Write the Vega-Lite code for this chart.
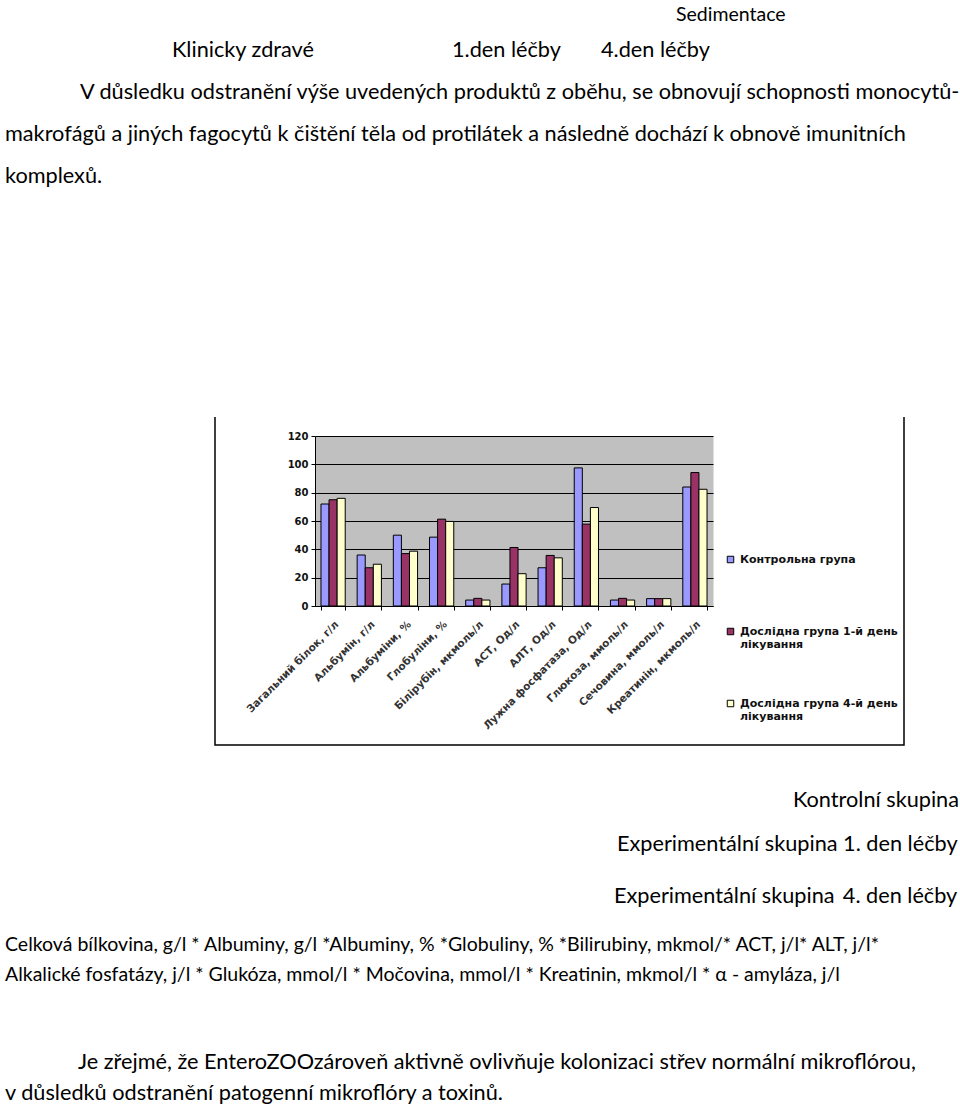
{
  "$schema": "https://vega.github.io/schema/vega-lite/v6.json",
  "width": 689,
  "height": 328,
  "padding": {"left": 215, "top": 417, "right": 56, "bottom": 365},
  "autosize": {"type": "none"},
  "background": "white",
  "config": {
    "view": {"stroke": "black", "strokeWidth": 1.5, "strokeDash": [0, 689, 1345, 0], "fill": "white"}
  },
  "datasets": {
    "bars": [
      {"category": "Загальний білок, г/л", "group": "Контрольна група", "value": 72},
      {"category": "Загальний білок, г/л", "group": "Дослідна група 1-й день лікування", "value": 75},
      {"category": "Загальний білок, г/л", "group": "Дослідна група 4-й день лікування", "value": 76},
      {"category": "Альбумін, г/л", "group": "Контрольна група", "value": 36},
      {"category": "Альбумін, г/л", "group": "Дослідна група 1-й день лікування", "value": 27},
      {"category": "Альбумін, г/л", "group": "Дослідна група 4-й день лікування", "value": 29.5},
      {"category": "Альбуміни, %", "group": "Контрольна група", "value": 50},
      {"category": "Альбуміни, %", "group": "Дослідна група 1-й день лікування", "value": 37},
      {"category": "Альбуміни, %", "group": "Дослідна група 4-й день лікування", "value": 38.7},
      {"category": "Глобуліни, %", "group": "Контрольна група", "value": 48.6},
      {"category": "Глобуліни, %", "group": "Дослідна група 1-й день лікування", "value": 61.3},
      {"category": "Глобуліни, %", "group": "Дослідна група 4-й день лікування", "value": 59.7},
      {"category": "Білірубін, мкмоль/л", "group": "Контрольна група", "value": 4.2},
      {"category": "Білірубін, мкмоль/л", "group": "Дослідна група 1-й день лікування", "value": 5.4},
      {"category": "Білірубін, мкмоль/л", "group": "Дослідна група 4-й день лікування", "value": 4.2},
      {"category": "АСТ, Од/л", "group": "Контрольна група", "value": 15.5},
      {"category": "АСТ, Од/л", "group": "Дослідна група 1-й день лікування", "value": 41.3},
      {"category": "АСТ, Од/л", "group": "Дослідна група 4-й день лікування", "value": 22.8},
      {"category": "АЛТ, Од/л", "group": "Контрольна група", "value": 27},
      {"category": "АЛТ, Од/л", "group": "Дослідна група 1-й день лікування", "value": 35.7},
      {"category": "АЛТ, Од/л", "group": "Дослідна група 4-й день лікування", "value": 34},
      {"category": "Лужна фосфатаза, Од/л", "group": "Контрольна група", "value": 97.5},
      {"category": "Лужна фосфатаза, Од/л", "group": "Дослідна група 1-й день лікування", "value": 57.8},
      {"category": "Лужна фосфатаза, Од/л", "group": "Дослідна група 4-й день лікування", "value": 69.5},
      {"category": "Глюкоза, ммоль/л", "group": "Контрольна група", "value": 4.2},
      {"category": "Глюкоза, ммоль/л", "group": "Дослідна група 1-й день лікування", "value": 5.4},
      {"category": "Глюкоза, ммоль/л", "group": "Дослідна група 4-й день лікування", "value": 4.2},
      {"category": "Сечовина, ммоль/л", "group": "Контрольна група", "value": 5.2},
      {"category": "Сечовина, ммоль/л", "group": "Дослідна група 1-й день лікування", "value": 5.2},
      {"category": "Сечовина, ммоль/л", "group": "Дослідна група 4-й день лікування", "value": 5.2},
      {"category": "Креатинін, мкмоль/л", "group": "Контрольна група", "value": 84},
      {"category": "Креатинін, мкмоль/л", "group": "Дослідна група 1-й день лікування", "value": 94.2},
      {"category": "Креатинін, мкмоль/л", "group": "Дослідна група 4-й день лікування", "value": 82.4}
    ],
    "page": [
      {"n": 1, "text": "Sedimentace"},
      {"n": 2, "text": "Klinicky zdravé"},
      {"n": 3, "text": "1.den léčby"},
      {"n": 4, "text": "4.den léčby"},
      {"n": 5, "text": "V důsledku odstranění výše uvedených produktů z oběhu, se obnovují schopnosti monocytů-"},
      {"n": 6, "text": "makrofágů a jiných fagocytů k čištění těla od protilátek a následně dochází k obnově imunitních"},
      {"n": 7, "text": "komplexů."},
      {"n": 8, "text": "Kontrolní skupina"},
      {"n": 9, "text": "Experimentální skupina 1. den léčby"},
      {"n": 10, "text": "Experimentální skupina\u2009 4. den léčby"},
      {"n": 11, "text": "Celková bílkovina, g/l * Albuminy, g/l *Albuminy, % *Globuliny, % *Bilirubiny, mkmol/* ACT, j/l* ALT, j/l*"},
      {"n": 12, "text": "Alkalické fosfatázy, j/l * Glukóza, mmol/l * Močovina, mmol/l * Kreatinin, mkmol/l * α - amyláza, j/l"},
      {"n": 13, "text": "Je zřejmé, že EnteroZOOzároveň aktivně ovlivňuje kolonizaci střev normální mikroflórou,"},
      {"n": 14, "text": "v důsledků odstranění patogenní mikroflóry a toxinů."}
    ]
  },
  "layer": [
    {
      "data": {"name": "bars"},
      "layer": [
        {
          "mark": {"type": "bar", "stroke": "black", "strokeWidth": 1},
          "encoding": {
            "x": {
              "field": "category", "type": "nominal", "sort": null,
              "scale": {"range": [100, 498], "paddingInner": 0.33, "paddingOuter": 0.165},
              "axis": {
                "orient": "bottom", "offset": -139, "title": null,
                "domainColor": "black", "domainWidth": 1,
                "tickColor": "black", "tickSize": 4, "tickBand": "extent",
                "labelAngle": -45, "labelFont": "DejaVu Sans", "labelFontSize": 10.5,
                "labelFontWeight": "bold",
                "labelColor": "#333333", "labelPadding": 9, "labelLimit": 220,
                "labelOverlap": false, "grid": false
              }
            },
            "xOffset": {"field": "group", "type": "nominal", "sort": null},
            "y": {
              "field": "value", "type": "quantitative",
              "scale": {"domain": [0, 120], "range": [189, 19], "nice": false, "zero": true},
              "axis": {
                "orient": "left", "offset": 0, "title": null, "values": [60],
                "grid": true, "gridColor": "#c0c0c0", "gridOpacity": 1, "gridWidth": 170,
                "domain": false, "ticks": false, "labels": false
              }
            },
            "color": {
              "field": "group", "type": "nominal", "sort": null,
              "scale": {
                "domain": ["Контрольна група", "Дослідна група 1-й день лікування", "Дослідна група 4-й день лікування"],
                "range": ["#9999ff", "#993366", "#ffffcc"]
              },
              "legend": {
                "orient": "none", "legendX": 510, "legendY": 137, "title": null,
                "symbolType": "square", "symbolSize": 42,
                "symbolStrokeColor": "black", "symbolStrokeWidth": 1,
                "labelFont": "DejaVu Sans", "labelFontSize": 11, "labelFontWeight": "bold",
                "labelColor": "#111111",
                "labelLimit": 300, "rowPadding": 47,
                "labelExpr": "indexof(datum.label, ' лікування') > 0 ? [replace(datum.label, ' лікування', ''), 'лікування'] : [datum.label, ' ']"
              }
            }
          }
        },
        {
          "mark": {"type": "bar", "opacity": 0},
          "encoding": {
            "x": {"field": "category", "type": "nominal", "sort": null},
            "xOffset": {"field": "group", "type": "nominal", "sort": null},
            "y": {
              "field": "value", "type": "quantitative",
              "axis": {
                "orient": "left", "offset": -100, "title": null,
                "values": [0, 20, 40, 60, 80, 100, 120],
                "grid": true, "gridColor": "black", "gridOpacity": 1, "gridWidth": 1,
                "domainColor": "black", "domainWidth": 1,
                "tickColor": "black", "tickSize": 4,
                "labelFont": "DejaVu Sans", "labelFontSize": 10, "labelFontWeight": "bold",
                "labelColor": "#111111", "labelPadding": 3
              }
            }
          }
        }
      ],
      "resolve": {"axis": {"y": "independent"}}
    },
    {
      "data": {"name": "page"},
      "encoding": {
        "x": {
          "field": "n", "type": "quantitative", "axis": null,
          "scale": {"domain": [1, 2, 3, 4, 5, 6, 7, 8, 9, 10, 11, 12, 13, 14], "range": [461, -43, 237, 386, -135, -210, -210, 744, 402, 399, -210, -210, -137, -210], "zero": false, "nice": false}
        },
        "y": {
          "field": "n", "type": "quantitative", "axis": null,
          "scale": {"domain": [1, 2, 3, 4, 5, 6, 7, 8, 9, 10, 11, 12, 13, 14], "range": [-396, -360, -360, -360, -318, -276, -234, 390, 434, 486, 534, 564, 652, 683], "zero": false, "nice": false}
        },
        "text": {"field": "text"}
      },
      "layer": [
        {
          "transform": [{"filter": "datum.n != 1 && datum.n != 8 && datum.n != 11 && datum.n != 12"}],
          "mark": {"type": "text", "align": "left", "baseline": "alphabetic", "font": "Lato", "fontSize": 21.7, "color": "black"}
        },
        {
          "transform": [{"filter": "datum.n == 8"}],
          "mark": {"type": "text", "align": "right", "baseline": "alphabetic", "font": "Lato", "fontSize": 21.7, "color": "black"}
        },
        {
          "transform": [{"filter": "datum.n == 1 || datum.n == 11 || datum.n == 12"}],
          "mark": {"type": "text", "align": "left", "baseline": "alphabetic", "font": "Lato", "fontSize": 19.5, "color": "black"}
        }
      ]
    }
  ],
  "resolve": {
    "scale": {"x": "independent", "y": "independent"},
    "axis": {"x": "independent", "y": "independent"}
  }
}
